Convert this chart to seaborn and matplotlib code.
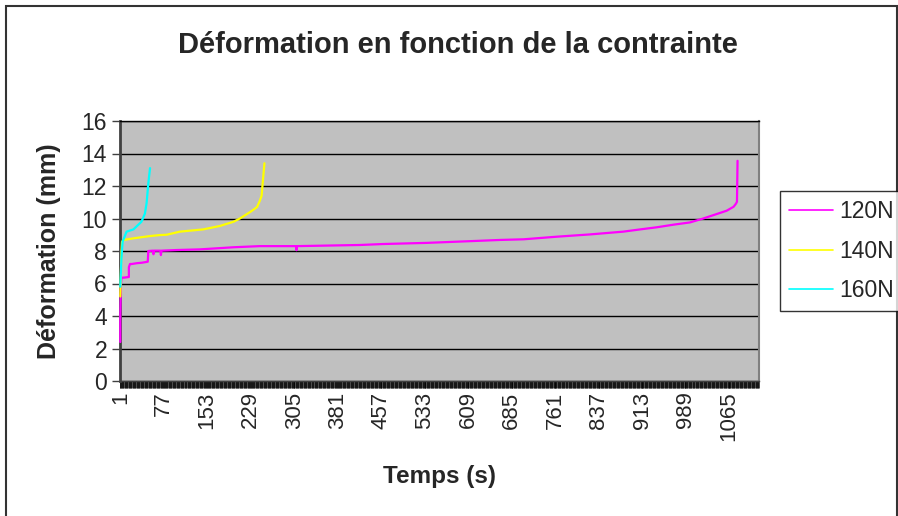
import matplotlib as mpl

mpl.use('Agg')
import pandas as pd
import matplotlib.pyplot as plt
from matplotlib.patches import Rectangle
from matplotlib.ticker import FixedLocator
import seaborn as sns
import warnings

warnings.filterwarnings('ignore')
sns.set_style("white")
plt.rcParams['font.family'] = ['Liberation Sans', 'DejaVu Sans']

# ---- data (category index -> deformation in mm) ----
series_names = ['120N', '140N', '160N']
series_colours = ['#FF00FF', '#FFFF00', '#00FFFF']

t_120 = [1, 1, 2, 3, 7, 16, 16, 18, 21, 30, 39, 49, 50, 58, 59, 60, 71, 72, 73, 100,
         140, 199, 245, 308, 309, 310, 420, 461, 537, 630, 665, 706, 764, 822, 880, 910, 939,
         968, 997, 1020, 1044, 1061, 1073, 1077, 1079, 1080]
d_120 = [2.4, 4.0, 5.8, 6.36, 6.36, 6.4, 7.0, 7.2, 7.2, 7.25, 7.28, 7.34, 8.0, 8.02, 7.8, 8.02, 8.02, 7.75, 8.02, 8.06,
         8.1, 8.23, 8.3, 8.3, 8.05, 8.3, 8.37, 8.43, 8.5, 8.63, 8.68, 8.72, 8.88, 9.02, 9.19, 9.33, 9.46,
         9.62, 9.76, 10.0, 10.28, 10.48, 10.72, 10.9, 11.03, 13.55]

t_140 = [1, 2, 3, 4, 7, 24, 53, 70, 82, 105, 146, 175, 199, 210, 228, 240, 245, 248, 251, 253]
d_140 = [5.2, 6.5, 7.95, 8.57, 8.68, 8.78, 8.92, 8.98, 9.0, 9.19, 9.33, 9.54, 9.8, 10.0, 10.4, 10.7,
         11.1, 11.4, 12.6, 13.4]

t_160 = [1, 3, 5, 12, 24, 38, 44, 47, 50, 53]
d_160 = [5.8, 7.5, 8.57, 9.19, 9.33, 9.8, 10.3, 10.95, 12.16, 13.1]

n_categories = 1117
x_tick_labels = [1, 77, 153, 229, 305, 381, 457, 533, 609, 685, 761, 837, 913, 989, 1065]
y_ticks = [0, 2, 4, 6, 8, 10, 12, 14, 16]

frames = []
for name, t, d in zip(series_names, [t_120, t_140, t_160], [d_120, d_140, d_160]):
    frames.append(pd.DataFrame({'temps': t, 'deformation': d, 'serie': name}))
df = pd.concat(frames, ignore_index=True)

# ---- figure ----
W, H = 898, 516
fig = plt.figure(figsize=(W / 100, H / 100), dpi=100)
ax = fig.add_axes([120 / W, (H - 381) / H, 639 / W, 260 / H])
ax.set_facecolor('#C0C0C0')

sns.lineplot(data=df, x='temps', y='deformation', hue='serie', palette=series_colours,
             sort=False, estimator=None, linewidth=1.6, ax=ax)
for line in ax.lines:
    line.set_zorder(3)
    line.set_clip_on(False)

ax.set_xlim(0.5, n_categories + 0.5)
ax.set_ylim(0, 16)

ax.set_yticks(y_ticks)
ax.yaxis.grid(True, color='black', linewidth=1)
ax.set_axisbelow(True)
ax.tick_params(axis='y', direction='out', length=5.8, width=1, color='#404040',
               labelsize=16.5, pad=3.5, left=True)

ax.set_xticks(x_tick_labels)
ax.set_xticklabels([str(v) for v in x_tick_labels], rotation=90, va='top', ha='center')
ax.xaxis.set_minor_locator(FixedLocator([i + 0.5 for i in range(n_categories + 1)]))
ax.tick_params(axis='x', which='major', direction='out', length=5, width=0.5, color='black',
               labelsize=16, pad=2.5, bottom=True)
ax.tick_params(axis='x', which='minor', direction='out', length=5, width=0.5, color='black',
               bottom=True)

ax.spines['left'].set_color('#404040')
ax.spines['left'].set_linewidth(2)
ax.spines['right'].set_color('#808080')
ax.spines['right'].set_linewidth(1.5)
ax.spines['top'].set_color('black')
ax.spines['top'].set_linewidth(1)
ax.spines['bottom'].set_color('#404040')
ax.spines['bottom'].set_linewidth(1)

ax.set_xlabel('Temps (s)', fontsize=17.5, fontweight='bold', labelpad=17)
ax.set_ylabel('Déformation (mm)', fontsize=18, fontweight='bold', labelpad=15)

fig.text(458 / W, 1 - 45 / H, 'Déformation en fonction de la contrainte',
         fontsize=21, fontweight='bold', ha='center', va='center')

# legend
handles, labels = ax.get_legend_handles_labels()
ax.get_legend().remove()
for h in handles:
    h.set_linewidth(1.2)
leg = fig.legend(handles, labels, loc='upper left', bbox_to_anchor=(780 / W, 1 - 191 / H),
                 bbox_transform=fig.transFigure, fontsize=16.5, frameon=True, fancybox=False,
                 handlelength=1.9, handletextpad=0.3, labelspacing=0.72, borderpad=0.4,
                 borderaxespad=0)
leg.get_frame().set_edgecolor('black')
leg.get_frame().set_linewidth(1)

# outer chart border
fig.patches.append(Rectangle((6 / W, -0.05), 891 / W, 1.05 - 6 / H, transform=fig.transFigure,
                             fill=False, edgecolor='#333333', linewidth=1.5))

fig.savefig('out.png', dpi=100, facecolor='white')
